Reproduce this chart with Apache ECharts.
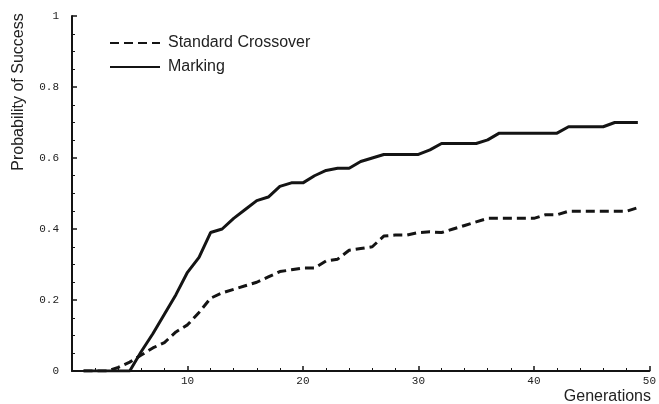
<!DOCTYPE html>
<html>
<head>
<meta charset="utf-8">
<script src="https://cdn.jsdelivr.net/npm/echarts@6/dist/echarts.min.js"></script>
<style>
html,body{margin:0;padding:0;background:#fff;}
#chart{width:659px;height:404px;}
</style>
</head>
<body>
<div id="chart"></div>
<script>
const generations = [1,2,3,4,5,6,7,8,9,10,11,12,13,14,15,16,17,18,19,20,21,22,23,24,25,26,27,28,29,30,31,32,33,34,35,36,37,38,39,40,41,42,43,44,45,46,47,48,49];
const standardCrossover = [0,0,0,0.01,0.025,0.045,0.065,0.08,0.11,0.13,0.165,0.205,0.22,0.23,0.24,0.25,0.265,0.28,0.285,0.29,0.29,0.31,0.315,0.34,0.345,0.35,0.38,0.383,0.383,0.39,0.392,0.39,0.40,0.41,0.42,0.43,0.43,0.43,0.43,0.43,0.44,0.44,0.45,0.45,0.45,0.45,0.45,0.45,0.46];
const marking = [0,0,0,0,0,0.055,0.105,0.16,0.215,0.278,0.32,0.39,0.40,0.43,0.455,0.48,0.49,0.52,0.53,0.53,0.55,0.565,0.571,0.571,0.59,0.60,0.61,0.61,0.61,0.61,0.623,0.641,0.641,0.641,0.641,0.651,0.67,0.67,0.67,0.67,0.67,0.67,0.688,0.688,0.688,0.688,0.70,0.70,0.70];
const seriesNames = ['Standard Crossover', 'Marking'];
const xTickLabels = ['10','20','30','40','50'];
const yTickLabels = ['0','0.2','0.4','0.6','0.8','1'];
const xTitle = 'Generations';
const yTitle = 'Probability of Success';

const ink = '#141414';
const chart = echarts.init(document.getElementById('chart'), null, {renderer:'canvas'});
const pairs = arr => generations.map((g,i) => [g, arr[i]]);

chart.setOption({
  animation: false,
  backgroundColor: '#fff',
  grid: {left: 72, right: 2, top: 16, bottom: 33, containLabel: false},
  legend: {
    orient: 'vertical', left: 104, top: 30,
    itemWidth: 50, itemHeight: 14, itemGap: 8,
    itemStyle: {opacity: 0},
    textStyle: {fontFamily: 'Liberation Sans', fontSize: 16, color: '#222', padding: [0, 0, 0, 3]},
    data: seriesNames
  },
  xAxis: {
    type: 'value', min: 0, max: 50, interval: 10,
    axisLine: {show: true, lineStyle: {color: ink, width: 2}},
    axisTick: {show: true, inside: true, length: 5, lineStyle: {color: ink, width: 1.5}},
    minorTick: {show: true, splitNumber: 5, length: 3, lineStyle: {color: ink, width: 1}},
    splitLine: {show: false},
    axisLabel: {
      showMinLabel: false, margin: 5,
      fontFamily: 'Liberation Mono', fontSize: 11, color: '#222',
      formatter: v => { const i = xTickLabels.indexOf(String(v)); return i >= 0 ? xTickLabels[i] : ''; }
    }
  },
  yAxis: {
    type: 'value', min: 0, max: 1, interval: 0.2,
    axisLine: {show: true, lineStyle: {color: ink, width: 2}},
    axisTick: {show: true, inside: true, length: 5, lineStyle: {color: ink, width: 1.5}},
    minorTick: {show: true, splitNumber: 4, length: 3, lineStyle: {color: ink, width: 1}},
    splitLine: {show: false},
    axisLabel: {
      margin: 13,
      fontFamily: 'Liberation Mono', fontSize: 11, color: '#222',
      formatter: v => yTickLabels[Math.round(v / 0.2)]
    }
  },
  graphic: [
    {type: 'text', x: 19, y: 92, rotation: Math.PI / 2,
     style: {text: yTitle, font: '16px "Liberation Sans"', fill: '#222', align: 'center', verticalAlign: 'middle'}},
    {type: 'text', x: 651, y: 397,
     style: {text: xTitle, font: '16px "Liberation Sans"', fill: '#222', align: 'right', verticalAlign: 'middle'}}
  ],
  series: [
    {name: seriesNames[0], type: 'line', data: pairs(standardCrossover), symbol: 'none',
     lineStyle: {color: ink, width: 3, type: [9, 5]}, itemStyle: {color: ink}},
    {name: seriesNames[1], type: 'line', data: pairs(marking), symbol: 'none',
     lineStyle: {color: ink, width: 3, type: 'solid'}, itemStyle: {color: ink}}
  ]
});
</script>
</body>
</html>
